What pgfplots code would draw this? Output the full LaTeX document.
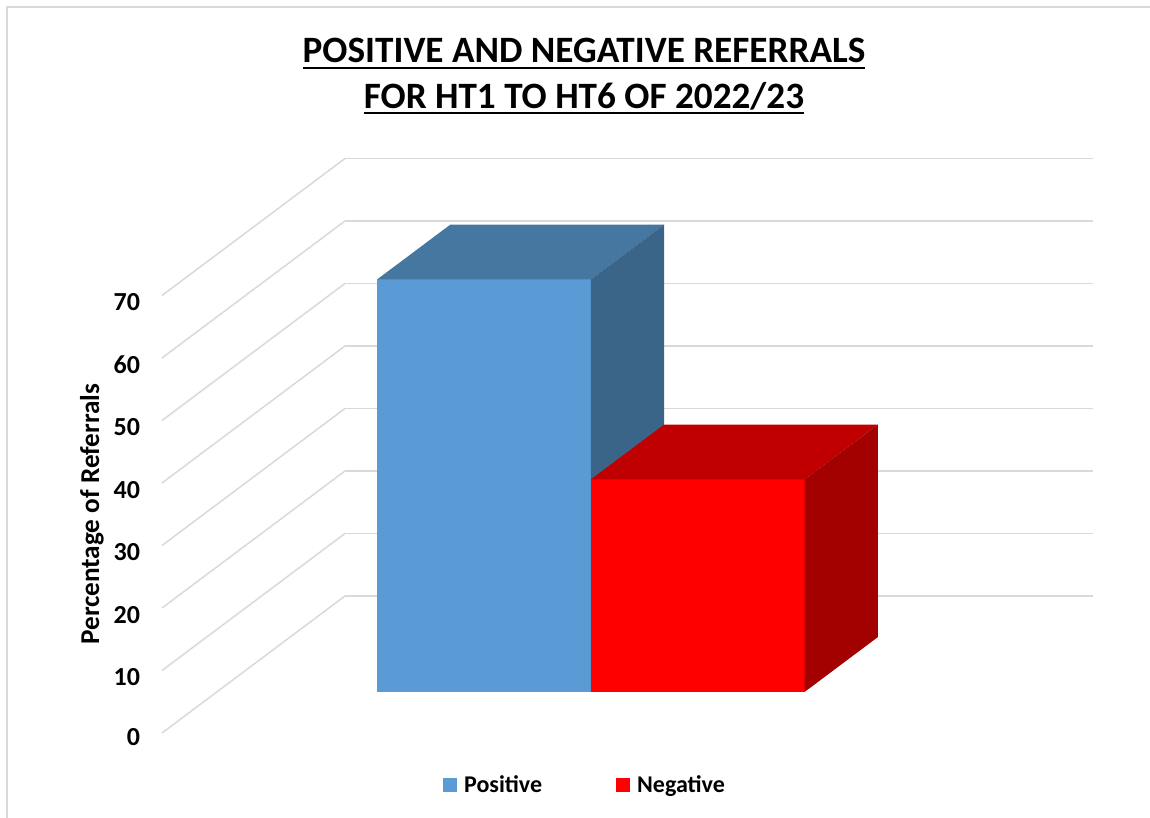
\documentclass[border=0pt]{standalone}
\usepackage{pgfplots}
\pgfplotsset{compat=1.18}
\usepackage{fontspec}
\setmainfont{Carlito}
\definecolor{posfront}{RGB}{91,155,213}
\definecolor{postop}{RGB}{70,119,161}
\definecolor{posside}{RGB}{58,100,136}
\definecolor{negfront}{RGB}{255,0,0}
\definecolor{negtop}{RGB}{192,0,0}
\definecolor{negside}{RGB}{163,0,0}
\definecolor{gridgray}{RGB}{217,217,217}
\newcommand{\ulx}[1]{\setbox0\hbox{#1}\rlap{\rule[-3pt]{\wd0}{1pt}}\box0}
\begin{document}
\begin{tikzpicture}
\path[use as bounding box] (0,0) rectangle (575pt,409pt);
\draw[gridgray, line width=0.75pt] (3.5pt,0) -- (3.5pt,405.5pt) -- (575pt,405.5pt);
\node[anchor=base, font=\bfseries\fontsize{18.6}{22}\selectfont, inner sep=0pt] at (292pt,377.6pt) {\ulx{POSITIVE AND NEGATIVE REFERRALS}};
\node[anchor=base, font=\bfseries\fontsize{18.6}{22}\selectfont, inner sep=0pt] at (292pt,354.8pt) {\ulx{FOR HT1 TO HT6 OF 2022/23}};
\begin{axis}[
  at={(268pt,42.5pt)}, anchor=origin,
  x={(106.857pt,0pt)}, y={(91.5pt,68.5pt)}, z={(0pt,3.125pt)},
  xmin=-1.75, xmax=1.75, ymin=0, ymax=1, zmin=0, zmax=70,
  ztick={0,10,...,70},
  xtick=\empty, ytick=\empty,
  zmajorgrids,
  grid style={gridgray, line width=0.75pt},
  axis line style={draw=none},
  major tick length=0pt,
  clip=false,
  /pgf/number format/assume math mode=true,
  ticklabel style={font=\bfseries\fontsize{13}{15}\selectfont},
  zticklabel style={xshift=-7.5pt},
  zlabel={Percentage of Referrals},
  every axis z label/.style={at={(axis cs:-2.0775,0,35)}, rotate=90, anchor=center,
    font=\bfseries\fontsize{13.6}{15}\selectfont},
  legend style={at={(axis cs:0.234,0,-8.4)}, anchor=center, draw=none, fill=none,
    font=\bfseries\fontsize{12}{14}\selectfont, legend columns=2,
    /tikz/every even column/.append style={column sep=35pt}},
  legend image code/.code={\fill[#1] (0pt,-3.5pt) rectangle (7pt,3.5pt); \path (8.5pt,0pt);},
]
% Positive bar (value 66)
\addplot3[fill=posfront, draw=none, mark=none] coordinates {(-1,0.3,0) (0,0.3,0) (0,0.3,66) (-1,0.3,66)};
\addlegendentry{Positive}
\addplot3[fill=postop, draw=none, mark=none, forget plot] coordinates {(-1,0.3,66) (0,0.3,66) (0,0.7,66) (-1,0.7,66)};
\addplot3[fill=posside, draw=none, mark=none, forget plot] coordinates {(0,0.3,0) (0,0.7,0) (0,0.7,66) (0,0.3,66)};
% Negative bar (value 34)
\addplot3[fill=negfront, draw=none, mark=none] coordinates {(0,0.3,0) (1,0.3,0) (1,0.3,34) (0,0.3,34)};
\addlegendentry{Negative}
\addplot3[fill=negtop, draw=none, mark=none, forget plot] coordinates {(0,0.3,34) (1,0.3,34) (1,0.7,34) (0,0.7,34)};
\addplot3[fill=negside, draw=none, mark=none, forget plot] coordinates {(1,0.3,0) (1,0.7,0) (1,0.7,34) (1,0.3,34)};
\end{axis}
\end{tikzpicture}
\end{document}
